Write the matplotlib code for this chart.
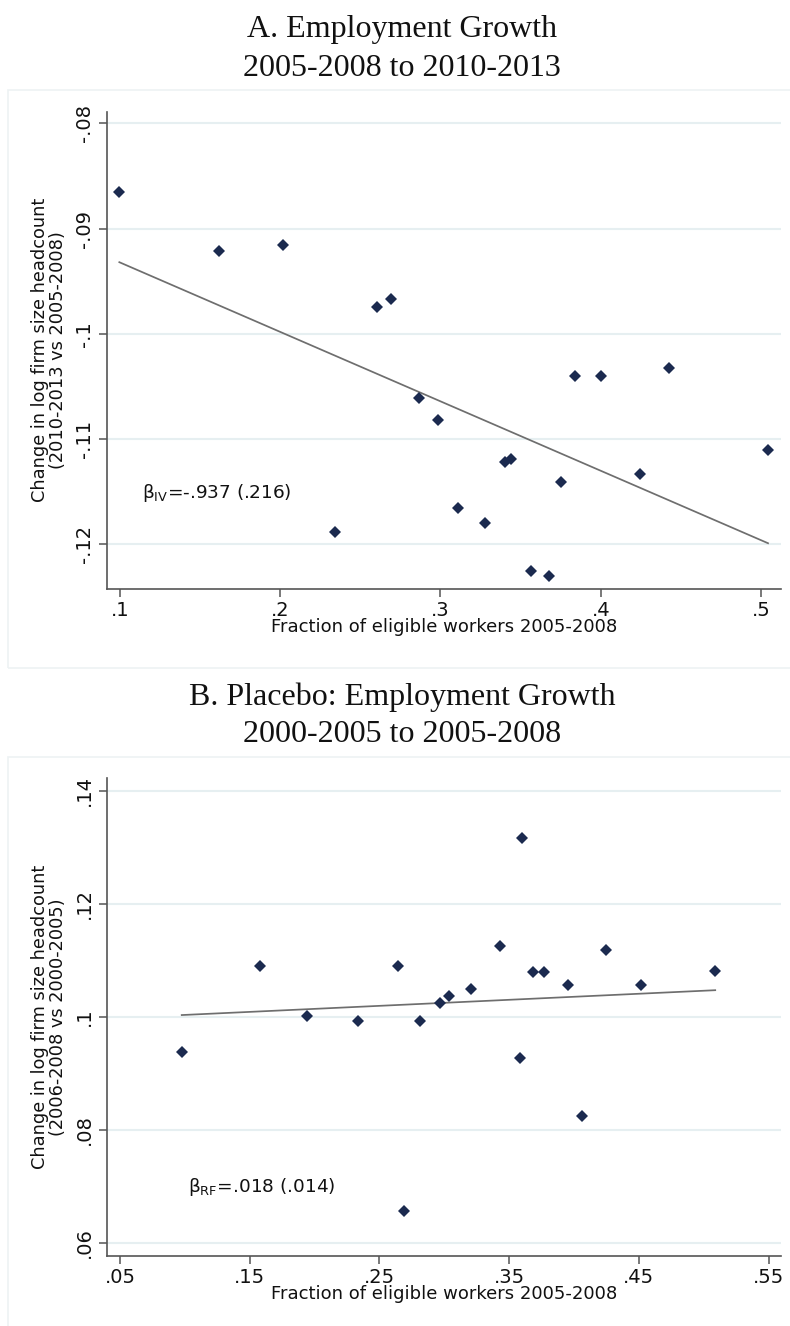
import numpy as np
import matplotlib
matplotlib.use("Agg")
import matplotlib.pyplot as plt
from matplotlib.patches import Rectangle

# ---- Panel A: employment growth 2005-2008 to 2010-2013 ----
a_x = [0.0996, 0.1618, 0.2017, 0.2341, 0.2607, 0.2692, 0.2865, 0.2983, 0.3112, 0.3280,
       0.3400, 0.3437, 0.3564, 0.3680, 0.3752, 0.3838, 0.4002, 0.4242, 0.4426, 0.5044]
a_y = [-0.08656, -0.09216, -0.09153, -0.1188, -0.09742, -0.09666, -0.10608, -0.1082, -0.1166, -0.1180,
       -0.11222, -0.1119, -0.12257, -0.12304, -0.1141, -0.10404, -0.10404, -0.1133, -0.10325, -0.11105]
a_fit = (-0.08663, -0.06596)          # intercept, slope of fitted line
a_xticks = [0.1, 0.2, 0.3, 0.4, 0.5]
a_xticklabels = [".1", ".2", ".3", ".4", ".5"]
a_yticks = [-0.12, -0.11, -0.10, -0.09, -0.08]
a_yticklabels = ["-.12", "-.11", "-.1", "-.09", "-.08"]
a_title = ["A. Employment Growth", "2005-2008 to 2010-2013"]
a_ylabel = "Change in log firm size headcount\n(2010-2013 vs 2005-2008)"
a_note = "β$_{\\mathrm{IV}}$=-.937 (.216)"

# ---- Panel B: placebo, employment growth 2000-2005 to 2005-2008 ----
b_x = [0.0976, 0.1582, 0.1940, 0.2333, 0.2643, 0.2693, 0.2811, 0.2968, 0.3037, 0.3207,
       0.3431, 0.3581, 0.3595, 0.3682, 0.3772, 0.3952, 0.4063, 0.4246, 0.4513, 0.5088]
b_y = [0.09373, 0.10897, 0.1001, 0.0993, 0.1090, 0.0657, 0.09917, 0.1025, 0.1036, 0.1049,
       0.11252, 0.09273, 0.1316, 0.1080, 0.1080, 0.1056, 0.08245, 0.11176, 0.1056, 0.1081]
b_fit = (0.09925, 0.0107)
b_xticks = [0.05, 0.15, 0.25, 0.35, 0.45, 0.55]
b_xticklabels = [".05", ".15", ".25", ".35", ".45", ".55"]
b_yticks = [0.06, 0.08, 0.10, 0.12, 0.14]
b_yticklabels = [".06", ".08", ".1", ".12", ".14"]
b_title = ["B. Placebo: Employment Growth", "2000-2005 to 2005-2008"]
b_ylabel = "Change in log firm size headcount\n(2006-2008 vs 2000-2005)"
b_note = "β$_{\\mathrm{RF}}$=.018 (.014)"

xlabel = "Fraction of eligible workers 2005-2008"

W, H = 790, 1326
plt.rcParams["font.family"] = ["DejaVu Sans"]
plt.rcParams["mathtext.fontset"] = "dejavusans"
fig = plt.figure(figsize=(W / 100, H / 100), dpi=100)

MARKER = "#1b2a4f"
GRID = "#e6eff1"
SPINE = "#555555"
FITC = "#6e6e6e"
BORDER = "#edf2f3"
TITLE_FONT = ["Liberation Serif", "DejaVu Serif"]


def fx(px):
    return px / W


def fy(py):
    return 1 - py / H


def panel(box, xs, ys, fit, xlim, ylim, xticks, xtl, yticks, ytl,
          title, ylabel, note, note_xy, region, title_y):
    left, top, right, bottom = box
    # light frame around the graph region
    rx0, ry0, ry1 = region
    fig.patches.append(Rectangle((fx(rx0), fy(ry1)), fx(W + 20 - rx0), fy(ry0) - fy(ry1),
                                 transform=fig.transFigure, fill=False,
                                 edgecolor=BORDER, lw=1.2))
    ax = fig.add_axes([fx(left), fy(bottom), fx(right - left), fy(top) - fy(bottom)])
    ax.set_xlim(*xlim)
    ax.set_ylim(*ylim)
    for s in ("top", "right"):
        ax.spines[s].set_visible(False)
    for s in ("left", "bottom"):
        ax.spines[s].set_color(SPINE)
        ax.spines[s].set_linewidth(1.2)
    ax.set_xticks(xticks)
    ax.set_xticklabels(xtl)
    ax.set_yticks(yticks)
    ax.set_yticklabels(ytl, rotation=90, va="center")
    ax.tick_params(axis="both", direction="out", length=5.5, width=1.1,
                   color=SPINE, labelsize=14, labelcolor="#111111")
    ax.tick_params(axis="x", pad=3)
    ax.tick_params(axis="y", pad=4)
    ax.yaxis.grid(True, color=GRID, lw=1.5)
    ax.set_axisbelow(True)

    # fitted line across the observed range
    b0, b1 = fit
    xr = np.array([min(xs), max(xs)])
    ax.plot(xr, b0 + b1 * xr, color=FITC, lw=1.25, zorder=2)
    ax.plot(xs, ys, linestyle="none", marker="D", markersize=6,
            color=MARKER, markeredgewidth=0, zorder=3)

    ax.text(note_xy[0], note_xy[1], note, fontsize=13.3, ha="left", va="center",
            color="#111111")

    cx = (left + right) / 2
    fig.text(fx(cx), fy(bottom + 38), xlabel, fontsize=13, ha="center",
             va="center", color="#111111")
    fig.text(fx(49), fy((top + bottom) / 2), ylabel, fontsize=12.8, rotation=90,
             ha="center", va="center", multialignment="center",
             linespacing=1.0, color="#111111")

    t1, t2 = title_y
    fig.text(fx(402), fy(t1), title[0], fontsize=23, family=TITLE_FONT,
             ha="center", va="center", color="#111111")
    fig.text(fx(402), fy(t2), title[1], fontsize=23, family=TITLE_FONT,
             ha="center", va="center", color="#111111")
    return ax


panel((107, 111.7, 781, 589), a_x, a_y, a_fit,
      (0.0919, 0.5125), (-0.12425, -0.0789),
      a_xticks, a_xticklabels, a_yticks, a_yticklabels,
      a_title, a_ylabel, a_note, (0.1137, -0.1151),
      (8, 90, 668), (30, 68))

panel((107, 778.3, 781, 1255.7), b_x, b_y, b_fit,
      (0.04, 0.5595), (0.0577, 0.1422),
      b_xticks, b_xticklabels, b_yticks, b_yticklabels,
      b_title, b_ylabel, b_note, (0.1024, 0.0698),
      (8, 757, 1340), (697, 735))

fig.savefig("out.png", dpi=100, facecolor="white")
